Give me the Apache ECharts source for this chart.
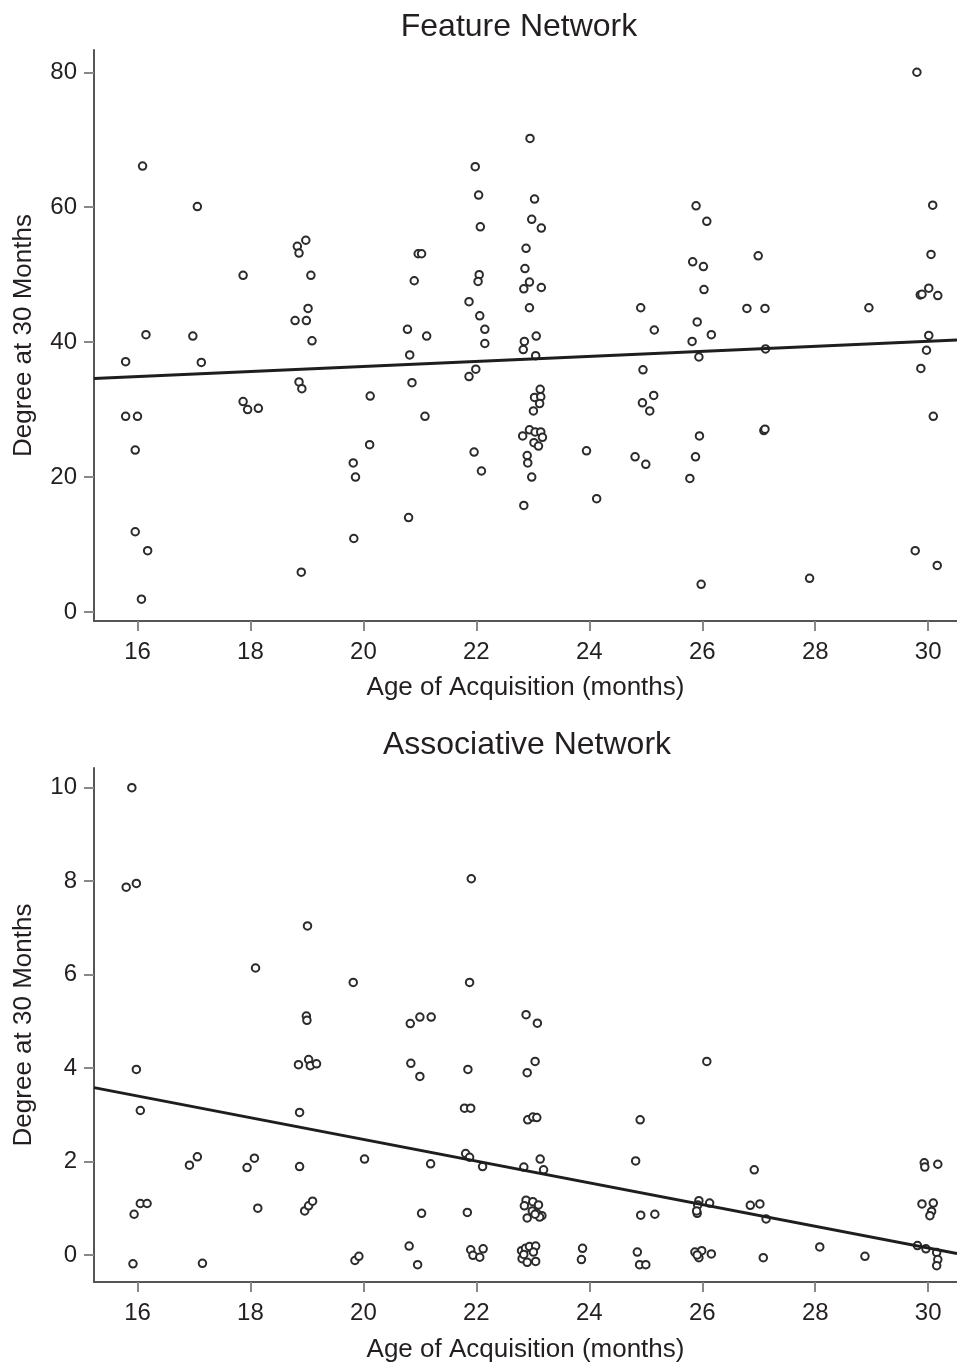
<!DOCTYPE html>
<html>
<head>
<meta charset="utf-8">
<script src="https://cdn.jsdelivr.net/npm/echarts@6/dist/echarts.min.js"></script>
<style>
html,body{margin:0;padding:0;background:#fff;}
#chart{width:957px;height:1364px;}
</style>
</head>
<body>
<div id="chart"></div>
<script>
// ---------- data ----------
const titles = ['Feature Network', 'Associative Network'];
const xAxisName = 'Age of Acquisition (months)';
const yAxisName = 'Degree at 30 Months';
const xTicks = [16, 18, 20, 22, 24, 26, 28, 30];
const yTicksFeature = [0, 20, 40, 60, 80];
const yTicksAssoc = [0, 2, 4, 6, 8, 10];

const featureX = [
  15.79,16.09,16.15,15.79,16.00,15.96,15.96,16.18,16.07,
  17.06,16.98,17.13,
  17.87,17.87,17.95,18.14,
  18.98,18.83,18.86,19.07,19.02,18.79,18.99,19.09,18.86,18.91,18.90,
  20.12,20.11,19.82,19.86,19.83,
  20.97,21.03,20.90,20.78,21.12,20.82,20.86,21.09,20.80,
  21.98,22.04,22.07,22.05,22.03,21.87,22.06,22.15,22.15,21.99,21.87,21.96,22.09,
  22.95,23.03,22.98,23.15,22.88,22.86,22.94,22.84,23.15,22.94,22.85,22.83,23.06,23.05,
  23.13,23.03,23.14,23.12,23.01,22.94,23.04,23.14,22.82,23.17,23.02,23.10,22.90,22.91,22.98,22.84,
  23.95,24.13,
  24.91,25.15,24.95,25.14,24.94,25.07,24.81,25.00,
  25.89,26.08,25.83,26.02,26.03,25.91,26.16,25.82,25.94,25.95,25.88,25.78,25.98,
  26.99,26.79,27.11,27.12,27.09,27.11,
  27.90,28.95,
  29.80,30.08,30.05,30.01,29.86,29.89,30.17,30.01,29.97,29.87,30.09,29.77,30.16
];
const featureY = [
  37.1,66.1,41.1,29.0,29.0,24.0,11.9,9.1,1.9,
  60.1,40.9,37.0,
  49.9,31.2,30.0,30.2,
  55.1,54.2,53.2,49.9,45.0,43.2,43.2,40.2,34.1,33.1,5.9,
  32.0,24.8,22.1,20.0,10.9,
  53.1,53.1,49.1,41.9,40.9,38.1,34.0,29.0,14.0,
  66.0,61.8,57.1,50.0,49.0,46.0,43.9,41.9,39.8,36.0,34.9,23.7,20.9,
  70.2,61.2,58.2,56.9,53.9,50.9,48.9,47.9,48.1,45.1,40.1,38.9,40.9,38.0,
  33.0,31.8,31.9,30.9,29.8,27.0,26.7,26.7,26.1,25.9,25.1,24.6,23.2,22.1,20.0,15.8,
  23.9,16.8,
  45.1,41.8,35.9,32.1,31.0,29.8,23.0,21.9,
  60.2,57.9,51.9,51.2,47.8,43.0,41.1,40.1,37.8,26.1,23.0,19.8,4.1,
  52.8,45.0,45.0,39.0,26.9,27.1,
  5.0,45.1,
  80.0,60.3,53.0,48.0,47.0,47.1,46.9,41.0,38.8,36.1,29.0,9.1,6.9
];
const featureFitX = [15.23, 30.51];
const featureFitY = [34.6, 40.3];

const assocX = [
  15.90,15.80,15.98,19.01,18.09,19.82,18.99,19.00,
  15.98,16.05,18.85,19.03,19.06,19.17,18.87,
  16.92,17.06,17.94,18.07,18.87,20.02,
  15.94,16.05,16.17,18.13,18.96,19.03,19.10,
  15.92,17.15,19.85,19.92,
  21.91,21.88,20.83,21.00,21.20,22.88,23.08,
  20.84,21.00,21.85,23.04,22.90,
  21.79,21.90,22.91,23.00,23.07,24.90,
  21.81,21.88,21.19,22.11,22.84,23.13,23.19,24.82,
  21.03,21.84,22.88,23.00,23.10,22.85,22.99,23.07,23.16,22.90,23.12,23.04,24.91,25.16,
  20.81,20.96,21.90,21.94,22.06,22.12,
  22.80,22.87,22.94,23.05,22.81,22.90,23.05,23.01,22.84,
  23.88,23.86,24.85,24.89,25.00,
  26.08,26.92,29.93,29.94,30.17,
  25.94,25.92,26.13,25.91,25.90,26.85,27.02,27.13,
  29.89,30.09,30.06,30.03,
  25.87,25.94,25.99,26.16,25.91,27.08,28.08,28.88,
  29.81,29.96,30.15,30.17,30.15
];
const assocY = [
  10.00,7.87,7.95,7.04,6.14,5.83,5.11,5.02,
  3.97,3.09,4.07,4.18,4.05,4.09,3.05,
  1.92,2.10,1.87,2.07,1.89,2.05,
  0.87,1.10,1.10,1.00,0.94,1.05,1.15,
  -0.19,-0.18,-0.12,-0.03,
  8.05,5.83,4.95,5.09,5.09,5.14,4.96,
  4.10,3.82,3.97,4.14,3.90,
  3.14,3.14,2.89,2.95,2.94,2.89,
  2.17,2.09,1.95,1.89,1.88,2.05,1.82,2.01,
  0.89,0.91,1.17,1.14,1.07,1.05,0.94,0.89,0.84,0.79,0.81,0.87,0.85,0.87,
  0.19,-0.21,0.11,-0.01,-0.05,0.13,
  0.09,0.14,0.18,0.19,-0.08,-0.16,-0.14,0.06,0.01,
  0.14,-0.10,0.06,-0.21,-0.21,
  4.14,1.82,1.97,1.88,1.94,
  1.16,1.07,1.11,0.89,0.94,1.06,1.09,0.77,
  1.09,1.11,0.93,0.84,
  0.06,-0.06,0.09,0.02,0.00,-0.06,0.17,-0.03,
  0.20,0.13,0.05,-0.10,-0.23
];
const assocFitX = [15.23, 30.51];
const assocFitY = [3.58, 0.03];

// ---------- build ----------
const zip = (a, b) => a.map((v, i) => [v, b[i]]);
const FONT = "'Liberation Sans', Arial, sans-serif";
const INK = '#231f20';

function xAxisCfg(gridIndex, gap) {
  return {
    gridIndex, type: 'value', min: 15.23, max: 30.51,
    name: xAxisName, nameLocation: 'middle', nameGap: gap,
    nameTextStyle: { fontFamily: FONT, fontSize: 26, color: INK },
    axisLine: { show: true, onZero: false, lineStyle: { color: '#555', width: 2 } },
    axisTick: { show: true, length: 10, customValues: xTicks, lineStyle: { color: '#888', width: 2 } },
    axisLabel: { customValues: xTicks, margin: 19, fontFamily: FONT, fontSize: 24, color: INK },
    splitLine: { show: false }
  };
}
function yAxisCfg(gridIndex, min, max, ticks) {
  return {
    gridIndex, type: 'value', min, max,
    name: yAxisName, nameLocation: 'middle', nameGap: 57,
    nameTextStyle: { fontFamily: FONT, fontSize: 26, color: INK },
    axisLine: { show: true, onZero: false, lineStyle: { color: '#555', width: 2 } },
    axisTick: { show: true, length: 10, customValues: ticks, lineStyle: { color: '#888', width: 2 } },
    axisLabel: { customValues: ticks, margin: 17, fontFamily: FONT, fontSize: 24, color: INK },
    splitLine: { show: false }
  };
}
const scatterStyle = {
  type: 'scatter', symbol: 'emptyCircle', symbolSize: 7.5,
  itemStyle: { color: '#2b2b2b', borderColor: '#2b2b2b', borderWidth: 2, opacity: 1 },
  emphasis: { disabled: true }, z: 2
};
const lineStyleCfg = {
  type: 'line', symbol: 'none', showSymbol: false,
  lineStyle: { color: '#1e1e1e', width: 3 }, z: 3, silent: true
};

const option = {
  animation: false,
  backgroundColor: '#fff',
  title: [
    { text: titles[0], left: 514, top: 6, textAlign: 'center',
      textStyle: { fontFamily: FONT, fontSize: 32, fontWeight: 'normal', color: INK } },
    { text: titles[1], left: 522, top: 724, textAlign: 'center',
      textStyle: { fontFamily: FONT, fontSize: 32, fontWeight: 'normal', color: INK } }
  ],
  grid: [
    { left: 94, top: 50, width: 863, height: 571 },
    { left: 94, top: 768, width: 863, height: 514 }
  ],
  xAxis: [xAxisCfg(0, 54), xAxisCfg(1, 55)],
  yAxis: [yAxisCfg(0, -1.33, 83.3, yTicksFeature), yAxisCfg(1, -0.58, 10.42, yTicksAssoc)],
  series: [
    Object.assign({}, scatterStyle, { xAxisIndex: 0, yAxisIndex: 0, data: zip(featureX, featureY) }),
    Object.assign({}, lineStyleCfg, { xAxisIndex: 0, yAxisIndex: 0, data: zip(featureFitX, featureFitY) }),
    Object.assign({}, scatterStyle, { xAxisIndex: 1, yAxisIndex: 1, data: zip(assocX, assocY) }),
    Object.assign({}, lineStyleCfg, { xAxisIndex: 1, yAxisIndex: 1, data: zip(assocFitX, assocFitY) })
  ]
};
const chart = echarts.init(document.getElementById('chart'), null, { renderer: 'canvas' });
chart.setOption(option);
</script>
</body>
</html>
